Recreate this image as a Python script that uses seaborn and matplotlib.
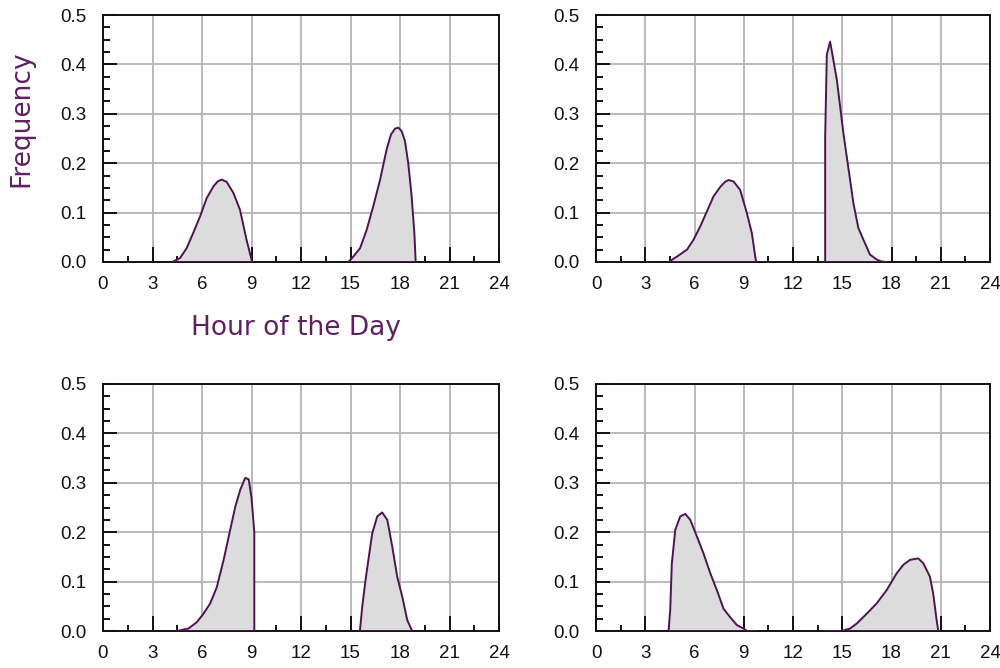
import numpy as np
import pandas as pd
import matplotlib
matplotlib.use("Agg")
import matplotlib.pyplot as plt
import seaborn as sns
from matplotlib.ticker import MultipleLocator

# ---------------- data ----------------
# top-left panel
tl_am_hour = [4.2, 4.67, 5.07, 5.47, 5.88, 6.28, 6.69, 6.95, 7.19, 7.5, 7.9, 8.3, 8.7, 9.0, 9.05]
tl_am_freq = [0.0, 0.008, 0.028, 0.059, 0.092, 0.129, 0.153, 0.163, 0.167, 0.162, 0.14, 0.106, 0.045, 0.005, 0.0]
tl_pm_hour = [14.87, 15.17, 15.58, 15.98, 16.38, 16.79, 17.19, 17.45, 17.7, 17.9, 18.1, 18.3, 18.5, 18.7, 18.87, 18.95]
tl_pm_freq = [0.0, 0.011, 0.028, 0.065, 0.113, 0.166, 0.228, 0.258, 0.27, 0.272, 0.265, 0.245, 0.2, 0.135, 0.059, 0.0]

# top-right panel
tr_am_hour = [4.42, 4.93, 5.54, 5.94, 6.35, 6.75, 7.16, 7.57, 7.85, 8.07, 8.38, 8.78, 9.19, 9.49, 9.7, 9.76]
tr_am_freq = [0.0, 0.011, 0.025, 0.045, 0.072, 0.102, 0.133, 0.152, 0.162, 0.166, 0.163, 0.146, 0.099, 0.059, 0.011, 0.0]
tr_pm_hour = [13.96, 13.96, 14.06, 14.26, 14.46, 14.67, 14.87, 15.07, 15.27, 15.48, 15.68, 15.98, 16.29, 16.69, 17.1, 17.4, 17.7]
tr_pm_freq = [0.0, 0.254, 0.42, 0.446, 0.409, 0.369, 0.315, 0.261, 0.214, 0.166, 0.119, 0.069, 0.045, 0.015, 0.005, 0.001, 0.0]

# bottom-left panel
bl_am_hour = [4.47, 5.18, 5.69, 6.09, 6.5, 6.9, 7.31, 7.71, 8.02, 8.32, 8.62, 8.83, 9.0, 9.17, 9.17]
bl_am_freq = [0.0, 0.005, 0.018, 0.035, 0.056, 0.089, 0.144, 0.205, 0.252, 0.286, 0.31, 0.307, 0.27, 0.2, 0.0]
bl_pm_hour = [15.57, 15.71, 15.91, 16.11, 16.32, 16.62, 16.92, 17.23, 17.53, 17.83, 18.14, 18.44, 18.74]
bl_pm_freq = [0.0, 0.049, 0.103, 0.15, 0.198, 0.232, 0.24, 0.225, 0.171, 0.11, 0.069, 0.022, 0.0]

# bottom-right panel
br_am_hour = [4.42, 4.52, 4.62, 4.83, 5.13, 5.44, 5.74, 6.15, 6.55, 6.96, 7.36, 7.77, 8.17, 8.58, 8.99, 9.19, 9.7]
br_am_freq = [0.0, 0.042, 0.137, 0.205, 0.232, 0.237, 0.225, 0.191, 0.157, 0.117, 0.083, 0.045, 0.028, 0.012, 0.005, 0.0, 0.0]
br_pm_hour = [13.96, 14.97, 15.48, 15.88, 16.49, 17.1, 17.71, 18.32, 18.72, 19.13, 19.63, 19.94, 20.34, 20.54, 20.75, 20.85]
br_pm_freq = [0.0, 0.0, 0.005, 0.015, 0.035, 0.056, 0.083, 0.117, 0.134, 0.144, 0.147, 0.137, 0.11, 0.076, 0.022, 0.0]

x_ticks = [0, 3, 6, 9, 12, 15, 18, 21, 24]
y_ticks = [0.0, 0.1, 0.2, 0.3, 0.4, 0.5]
x_label = "Hour of the Day"
y_label = "Frequency"

# ---------------- styling ----------------
sns.set_style("white")
plt.rcParams['font.family'] = ['Liberation Sans', 'DejaVu Sans']

LINE = "#4d1450"
FILL = "#dcdcdc"
GRID = "#b4b4b4"
LABEL = "#5e2160"
INK = "#111111"

fig = plt.figure(figsize=(10, 6.68), dpi=100)

W, H = 1000, 668
def rect(l, r, t, b):
    return [l / W, 1 - b / H, (r - l) / W, (b - t) / H]

panels = [
    (rect(103, 499, 15, 262), [(tl_am_hour, tl_am_freq), (tl_pm_hour, tl_pm_freq)], True),
    (rect(596, 990, 15, 262), [(tr_am_hour, tr_am_freq), (tr_pm_hour, tr_pm_freq)], False),
    (rect(103, 499, 384, 631), [(bl_am_hour, bl_am_freq), (bl_pm_hour, bl_pm_freq)], False),
    (rect(596, 990, 384, 631), [(br_am_hour, br_am_freq), (br_pm_hour, br_pm_freq)], False),
]

for pos, curves, labelled in panels:
    ax = fig.add_axes(pos)
    ax.set_axisbelow(True)
    for hours, freqs in curves:
        df = pd.DataFrame({"hour": hours, "freq": freqs})
        ax.fill_between(df["hour"], df["freq"], 0, color=FILL, linewidth=0, zorder=2)
        sns.lineplot(data=df, x="hour", y="freq", sort=False, estimator=None, ax=ax,
                     color=LINE, linewidth=1.4, zorder=3)
        ax.plot([df["hour"].min(), df["hour"].max()], [0, 0], color=LINE,
                linewidth=1.4, zorder=3, solid_capstyle="butt")
    ax.set_xlim(0, 24)
    ax.set_ylim(0, 0.5)
    ax.set_xticks(x_ticks)
    ax.set_xticklabels([str(v) for v in x_ticks])
    ax.set_yticks(y_ticks)
    ax.set_yticklabels([f"{v:.1f}" for v in y_ticks])
    ax.xaxis.set_minor_locator(MultipleLocator(1.5))
    ax.yaxis.set_minor_locator(MultipleLocator(0.025))
    ax.grid(which="major", color=GRID, linewidth=1.3)
    ax.grid(which="minor", visible=False)
    ax.tick_params(which="both", bottom=True, left=True, top=False, right=False)
    ax.tick_params(axis="x", which="major", direction="in", length=11, width=1.4,
                   color=INK, pad=10, labelsize=13.5, labelcolor=INK)
    ax.tick_params(axis="x", which="minor", direction="in", length=4.5, width=1.4,
                   color=INK)
    ax.tick_params(axis="y", which="major", direction="in", length=10, width=1.4,
                   color=INK, pad=12, labelsize=13.5, labelcolor=INK)
    ax.tick_params(axis="y", which="minor", direction="in", length=5, width=1.4,
                   color=INK)
    for s in ax.spines.values():
        s.set_visible(True)
        s.set_color(INK)
        s.set_linewidth(1.4)
    if labelled:
        ax.set_xlabel(x_label, color=LABEL, fontsize=19, family="DejaVu Sans")
        ax.set_ylabel(y_label, color=LABEL, fontsize=19, family="DejaVu Sans")
        ax.xaxis.set_label_coords(0.487, -0.267)
        ax.yaxis.set_label_coords(-0.205, 0.579)
        ax.xaxis.label.set_va("center")
        ax.yaxis.label.set_va("center")
    else:
        ax.set_xlabel("")
        ax.set_ylabel("")

fig.savefig("out.png", dpi=100)
